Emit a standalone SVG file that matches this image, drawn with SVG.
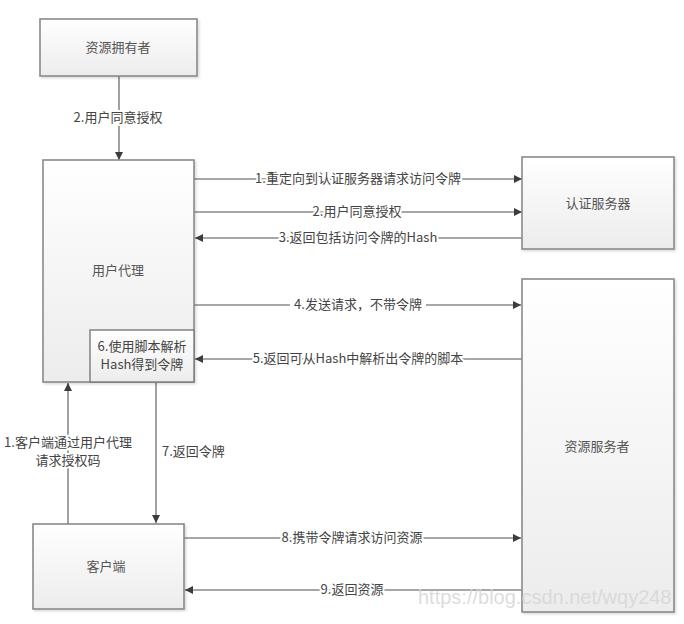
<svg xmlns="http://www.w3.org/2000/svg" width="684" height="624" viewBox="0 0 684 624">
<style>
.box{fill:url(#g);stroke:#8a8a8a;stroke-width:1.6;filter:url(#sh)}
.inner{fill:url(#g);stroke:#7a7a7a;stroke-width:1.4}
.t{font-family:"Noto Sans CJK SC","Liberation Sans",sans-serif;font-size:13px;fill:#555;text-anchor:middle}
.l{font-family:"Noto Sans CJK SC","Liberation Sans",sans-serif;font-size:13px;fill:#444;text-anchor:middle;paint-order:stroke;stroke:#fff;stroke-width:4px;stroke-linejoin:round}
.c{stroke:#8a8a8a;stroke-width:1.6;fill:none;marker-end:url(#ah)}
.wm{font-family:"Liberation Sans",sans-serif;font-size:20px;fill:#d6d6d6;fill-opacity:0.85}
</style>
<defs>
<linearGradient id="g" x1="0" y1="0" x2="0" y2="1"><stop offset="0" stop-color="#ffffff"/><stop offset="1" stop-color="#ececec"/></linearGradient>
<filter id="sh" x="-5%" y="-5%" width="115%" height="115%"><feDropShadow dx="1.5" dy="1.5" stdDeviation="1" flood-color="#000" flood-opacity="0.15"/></filter>
<marker id="ah" viewBox="0 0 10 10" refX="10" refY="5" markerWidth="8" markerHeight="8" markerUnits="userSpaceOnUse" orient="auto"><path d="M0,0 L10,5 L0,10 z" fill="#3c3c3c"/></marker>
</defs>
<g id="connectors">
<path class="c" d="M119,76 V160"/>
<path class="c" d="M194,179 H522"/>
<path class="c" d="M194,212 H522"/>
<path class="c" d="M522,238 H195"/>
<path class="c" d="M194,305 H521"/>
<path class="c" d="M522,359 H195"/>
<path class="c" d="M68,524 V383"/>
<path class="c" d="M156,382 V523"/>
<path class="c" d="M184,538 H521"/>
<path class="c" d="M522,590 H185"/>
<rect x="290" y="297" width="136" height="16" fill="#fff"/>
<text class="l" x="118" y="122">2.用户同意授权</text>
<text class="l" x="358" y="183">1.重定向到认证服务器请求访问令牌</text>
<text class="l" x="357" y="216">2.用户同意授权</text>
<text class="l" x="358" y="242">3.返回包括访问令牌的Hash</text>
<text class="l" x="358" y="309">4.发送请求，不带令牌</text>
<text class="l" x="358" y="363">5.返回可从Hash中解析出令牌的脚本</text>
<text class="l" x="68" y="447">1.客户端通过用户代理</text>
<text class="l" x="68" y="465">请求授权码</text>
<text class="l" x="162" y="456" style="text-anchor:start">7.返回令牌</text>
<text class="l" x="352" y="542">8.携带令牌请求访问资源</text>
<text class="l" x="352" y="594">9.返回资源</text>
</g>
<g id="owner"><rect class="box" x="40" y="19" width="157" height="57"/><text class="t" x="118" y="52">资源拥有者</text></g>
<g id="useragent"><rect class="box" x="43" y="160" width="151" height="222"/><text class="t" x="118" y="275">用户代理</text></g>
<g id="script"><rect class="inner" x="90" y="330" width="104" height="52"/><text class="t" x="142" y="351" style="fill:#444">6.使用脚本解析</text><text class="t" x="142" y="369" style="fill:#444">Hash得到令牌</text></g>
<g id="authserver"><rect class="box" x="522" y="157" width="152" height="92"/><text class="t" x="598" y="208">认证服务器</text></g>
<g id="resserver"><rect class="box" x="522" y="279" width="152" height="333"/><text class="t" x="597" y="451">资源服务者</text></g>
<g id="client"><rect class="box" x="33" y="524" width="151" height="85"/><text class="t" x="106" y="571">客户端</text></g>
<text class="wm" x="418" y="604">https://blog.csdn.net/wqy248</text>
</svg>
